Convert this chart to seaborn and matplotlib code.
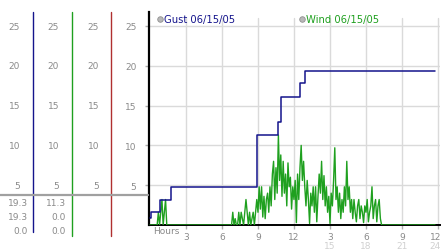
import numpy as np
import pandas as pd
import matplotlib
matplotlib.use("Agg")
import matplotlib.pyplot as plt
from matplotlib.lines import Line2D
import seaborn as sns

# ---------------- data ----------------
gust_hours = [0.0, 0.05, 0.85, 1.75, 8.95, 10.65, 10.95, 12.5, 12.9, 23.75]
gust_speed = [0.9, 1.6, 3.2, 4.8, 11.3, 12.9, 16.1, 17.8, 19.3, 19.3]

wind_burst1_start = 0.6
wind_burst1 = [0.0, 1.6, 0.0, 1.6, 3.2, 0.0, 1.6, 3.2, 0.0]
wind_burst2_start = 6.8
wind_burst2 = [
    0.0, 1.6, 0.0, 0.8, 0.0, 0.0, 1.6, 0.0, 1.6, 0.8,
    0.0, 1.6, 3.2, 1.6, 0.0, 1.6, 0.0, 0.8, 1.6, 0.0,
    1.6, 3.2,
    1.6, 4.8, 2.0, 4.8, 1.0, 3.6, 0.8, 3.2, 4.0, 1.6,
    4.8, 2.4, 6.4, 8.0, 3.2, 7.2, 4.0, 11.3, 5.6, 8.8,
    3.6, 8.0, 4.0, 6.4, 2.4, 7.8, 4.8, 6.0, 2.0, 4.8,
    3.2, 5.6, 0.3, 6.4, 3.2, 7.2, 10.0, 5.6, 8.0, 4.8,
    2.4, 5.6, 3.2, 0.2, 4.0, 2.4, 4.8, 1.6, 4.8, 0.4,
    3.6, 6.4, 4.0, 8.0, 3.2, 6.2, 2.4, 4.8, 1.6, 3.6,
    0.2, 4.0, 2.4, 5.6, 9.7, 3.2, 4.8, 1.6, 4.0, 0.8,
    3.2, 1.6, 4.8, 2.4, 8.0, 3.2, 4.8, 1.6, 3.2, 0.8,
    3.2, 1.6, 0.4, 2.4, 3.2, 0.8, 2.4, 1.6, 0.3, 2.4,
    1.6, 3.2, 0.4, 1.6, 2.4, 4.8, 0.8, 2.4, 3.2, 0.4,
    2.4, 3.2, 0.8, 0.0,
]
wind_end_hour = 23.75

x_tick_hours = [3, 6, 9, 12, 15, 18, 21, 24]
x_tick_top = ["3", "6", "9", "12", "3", "6", "9", "12"]
x_tick_bottom = ["", "", "", "", "15", "18", "21", "24"]
y_ticks = [5, 10, 15, 20, 25]

gust_stats = ["19.3", "19.3", "0.0"]
wind_stats = ["11.3", "0.0", "0.0"]
legend_labels = ["Gust 06/15/05", "Wind 06/15/05"]

# ---------------- build frames ----------------
step = 0.1
w_hours = ([0.0]
           + list(wind_burst1_start + step * np.arange(len(wind_burst1)))
           + list(wind_burst2_start + step * np.arange(len(wind_burst2)))
           + [wind_end_hour])
w_speed = [0.0] + wind_burst1 + wind_burst2 + [0.0]
wind_df = pd.DataFrame({"hour": w_hours, "speed": w_speed})
gust_df = pd.DataFrame({"hour": gust_hours, "speed": gust_speed})

# ---------------- figure ----------------
W, H = 442, 253
fig = plt.figure(figsize=(W / 100, H / 100), dpi=100)
sns.set_style("white")
plt.rcParams["font.family"] = ["DejaVu Sans"]

GUST = "#14148c"
WIND = "#1fa01f"
RED = "#b03030"
GRAY = "#8a8a8a"
LIGHT = "#d0d0d0"
GRID = "#dadada"

top_px, bot_px, left_px, right_px = 13, 226, 149, 440
ax = fig.add_axes([left_px / W, (H - bot_px) / H,
                   (right_px - left_px) / W, (bot_px - top_px) / H])
ppu = 7.96
ax.set_ylim(0, (bot_px - top_px) / ppu)
ax.set_xlim(-0.08, (right_px - 150) / 12)

for yv in y_ticks:
    ax.axhline(yv, color=GRID, lw=1, zorder=0)
for xv in x_tick_hours:
    ax.axvline(xv, color=GRID, lw=1, zorder=0, ymax=26 / ((bot_px - top_px) / ppu))

sns.lineplot(data=wind_df, x="hour", y="speed", ax=ax, color=WIND,
             lw=1.0, estimator=None, sort=False, zorder=3)
sns.lineplot(data=gust_df, x="hour", y="speed", ax=ax, color=GUST,
             lw=1.1, estimator=None, sort=False, drawstyle="steps-post", zorder=4)

ax.set_xlabel("")
ax.set_ylabel("")
for s in ["top", "right"]:
    ax.spines[s].set_visible(False)
ax.spines["left"].set_color("black")
ax.spines["left"].set_linewidth(1.6)
ax.spines["bottom"].set_color("black")
ax.spines["bottom"].set_linewidth(1.4)

ax.set_yticks(y_ticks)
ax.set_yticklabels([str(v) for v in y_ticks])
ax.tick_params(axis="y", length=3, width=1, color="#b0b0b0", pad=6,
               labelsize=6.5, labelcolor=GRAY, left=True)
ax.set_xticks(x_tick_hours)
ax.set_xticklabels([""] * len(x_tick_hours))
ax.tick_params(axis="x", length=3, width=1, color="#b0b0b0", pad=2.5,
               bottom=True, direction="out")

def fy(px):
    return 1 - px / H

n = len(x_tick_hours)
for i, (xv, top_lab, bot_lab) in enumerate(zip(x_tick_hours, x_tick_top, x_tick_bottom)):
    xc = 150 + 12 * xv
    if i == n - 1:
        xpos, ha = 441, "right"
    else:
        xpos, ha = xc, "center"
    fig.text(xpos / W, fy(238), top_lab, ha=ha, va="center",
             fontsize=6.5, color=GRAY)
    if bot_lab:
        fig.text(xpos / W, fy(247), bot_lab, ha=ha, va="center",
                 fontsize=6.5, color=LIGHT)
fig.text(153 / W, fy(232), "Hours", ha="left", va="center",
         fontsize=6.5, color=GRAY)

# legend
for xpx, lab, col in [(160, legend_labels[0], GUST), (302, legend_labels[1], WIND)]:
    fig.add_artist(Line2D([xpx / W], [fy(20)], marker="o", markersize=4,
                          markerfacecolor="#b8b8b8", markeredgecolor="#909090",
                          markeredgewidth=0.6, transform=fig.transFigure))
    fig.text((xpx + 4.5) / W, fy(20), lab, ha="left", va="center",
             fontsize=7.2, color=col)

# left panel
for xpx, col, ybot in [(33, GUST, 233), (72, WIND, 237), (111, RED, 237)]:
    fig.add_artist(Line2D([xpx / W, xpx / W], [fy(13), fy(ybot)], color=col,
                          lw=1.0, transform=fig.transFigure))

for xr in [20, 59, 99]:
    for yv in y_ticks:
        ypx = bot_px - yv * ppu
        fig.text(xr / W, fy(ypx), str(yv), ha="right", va="center",
                 fontsize=6.5, color=GRAY)

fig.add_artist(Line2D([0, 148 / W], [fy(196), fy(196)], color="#a0a0a0",
                      lw=1.6, transform=fig.transFigure))

for i, (g, w) in enumerate(zip(gust_stats, wind_stats)):
    ypx = 204 + 14 * i
    fig.text(28 / W, fy(ypx), g, ha="right", va="center", fontsize=6.5, color=GRAY)
    fig.text(66 / W, fy(ypx), w, ha="right", va="center", fontsize=6.5, color=GRAY)

fig.savefig("out.png", dpi=100)
